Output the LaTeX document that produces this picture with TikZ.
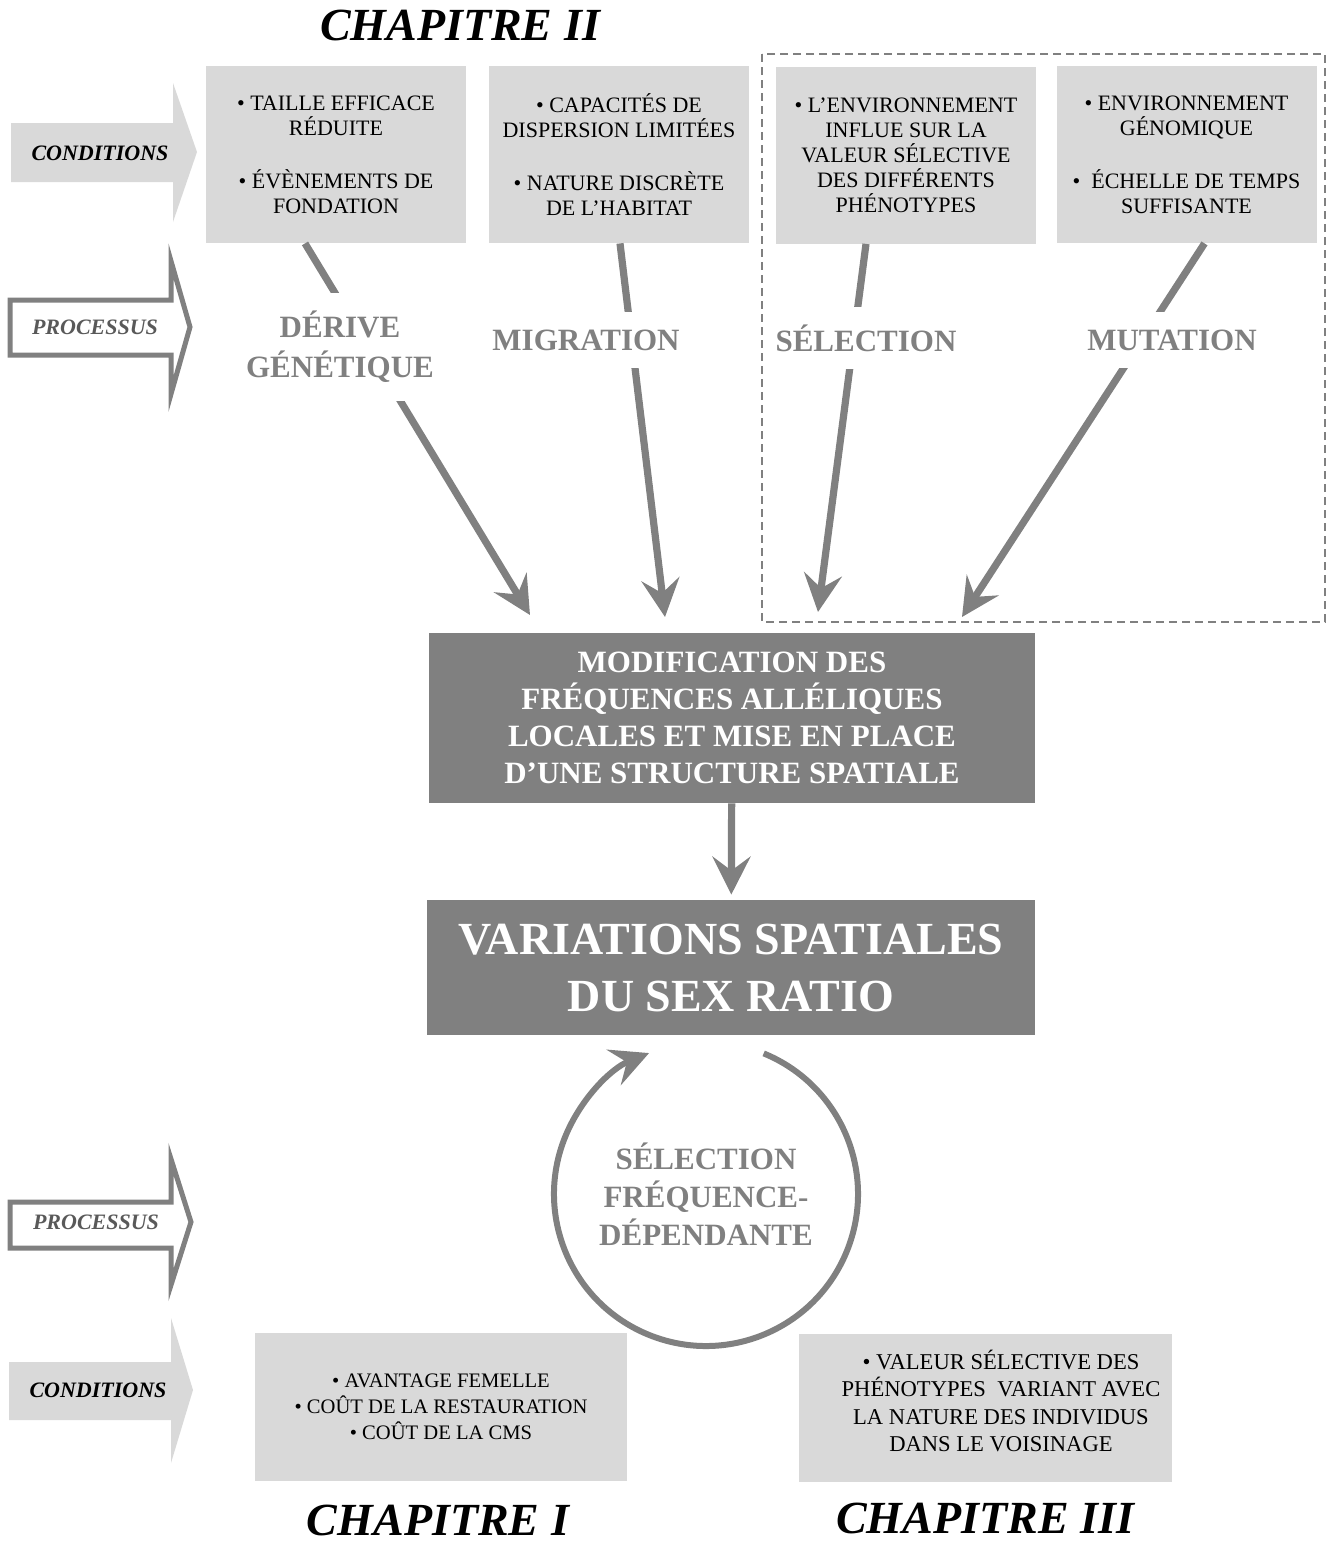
\documentclass[tikz,border=0pt]{standalone}
\usepackage{fontspec}
\setmainfont{Liberation Serif}
\definecolor{PaleShade}{RGB}{217,217,217}
\definecolor{MidShade}{RGB}{128,128,128}
\definecolor{DeepShade}{RGB}{89,89,89}
\colorlet{ColourBox}{PaleShade}
\colorlet{ColourLink}{MidShade}
\colorlet{ColourTag}{DeepShade}
\usetikzlibrary{arrows.meta}

\begin{document}
\begin{tikzpicture}[x=0.5pt,y=-0.5pt,
    condbox/.style={fill=ColourBox,minimum width=130pt,minimum height=88.5pt,inner sep=0pt,
      align=center,font=\fontsize{11}{12.5}\selectfont},
    lowbox/.style={fill=ColourBox,minimum width=186pt,minimum height=74pt,inner sep=0pt,
      align=center,font=\fontsize{10.3}{13}\selectfont},
    darkbox/.style={fill=ColourLink,text=white,minimum width=303pt,inner sep=0pt,align=center,
      font=\bfseries\fontsize{15.5}{18.5}\selectfont},
    proc/.style={text=ColourLink,align=center,font=\bfseries\fontsize{15.5}{20}\selectfont},
    link/.style={ColourLink,line width=3.6pt},
    pointed/.style={-{Stealth[length=19pt,width=19pt,inset=7pt]}},
    chap/.style={font=\bfseries\itshape\fontsize{23}{23}\selectfont},
    tag/.style={font=\bfseries\itshape\fontsize{11}{11}\selectfont}]

  \useasboundingbox (0,0) rectangle (1331,1544);

  % side arrows
  \fill[ColourBox] (11,123) -- (173,123) -- (173,83) -- (197,152) -- (173,222) -- (173,182) -- (11,182) -- cycle;
  \node[tag] (cond1) at (100,153) {CONDITIONS};
  \draw[ColourLink,line width=2.5pt,fill=white] (10,300) -- (171,300) -- (171,261) -- (190,327) -- (171,394) -- (171,355) -- (10,355) -- cycle;
  \node[tag,text=ColourTag] (proc1) at (95,327) {PROCESSUS};

  \draw[ColourLink,line width=2.5pt,fill=white] (10,1202) -- (171,1202) -- (171,1159) -- (191,1222) -- (171,1285) -- (171,1248) -- (10,1248) -- cycle;
  \node[tag,text=ColourTag] (proc2) at (96,1222) {PROCESSUS};
  \fill[ColourBox] (9,1362) -- (171,1362) -- (171,1318) -- (193,1390) -- (171,1463) -- (171,1420) -- (9,1420) -- cycle;
  \node[tag] (cond2) at (98,1390) {CONDITIONS};

  % chapters
  \node[chap] (chap2) at (460,25) {CHAPITRE II};
  \node[chap] (chap1) at (438,1520) {CHAPITRE I};
  \node[chap] (chap3) at (985,1518) {CHAPITRE III};

  % conditions of chapter II
  \node[condbox] (driftcond) at (336,154.5) {\textbullet\ TAILLE EFFICACE\\RÉDUITE\\[14pt]\textbullet\ ÉVÈNEMENTS DE\\FONDATION};
  \node[condbox] (migcond) at (619,154.5) {\textbullet\ CAPACITÉS DE\\DISPERSION LIMITÉES\\[14pt]\textbullet\ NATURE DISCRÈTE\\DE L’HABITAT};
  \node[condbox] (selcond) at (906,155) {\textbullet\ L’ENVIRONNEMENT\\INFLUE SUR LA\\VALEUR SÉLECTIVE\\DES DIFFÉRENTS\\PHÉNOTYPES};
  \node[condbox] (mutcond) at (1186.5,154.5) {\textbullet\ ENVIRONNEMENT\\GÉNOMIQUE\\[14pt]\textbullet\ \ ÉCHELLE DE TEMPS\\SUFFISANTE};

  \draw[ColourLink,line width=0.9pt,dash pattern=on 4pt off 2.5pt] (762,54) rectangle (1325,622);

  % arrow ends above the central box
  \coordinate (t1) at (530,615);
  \coordinate (t2) at (665,617);
  \coordinate (t3) at (818,612);
  \coordinate (t4) at (962,617);

  \draw[link,pointed] ([xshift=-15.5pt]driftcond.south) -- (t1);
  \draw[link,pointed] ([xshift=0.5pt]migcond.south) -- (t2);
  \draw[link,pointed] ([xshift=-20pt]selcond.south) -- (t3);
  \draw[link,pointed] ([xshift=9pt]mutcond.south) -- (t4);

  \node[proc,fill=white,inner xsep=2pt,inner ysep=9pt] (derive) at (340,347) {DÉRIVE\\GÉNÉTIQUE};
  \node[proc,fill=white,inner xsep=2pt,inner ysep=9pt] (migration) at (586,340) {MIGRATION};
  \node[proc,fill=white,inner xsep=2pt,inner ysep=9pt] (selection) at (866,338) {SÉLECTION};
  \node[proc,fill=white,inner xsep=2pt,inner ysep=9pt] (mutation) at (1172,340) {MUTATION};

  % central boxes
  \node[darkbox,minimum height=85pt] (modif) at (732,718)
    {MODIFICATION DES\\FRÉQUENCES ALLÉLIQUES\\LOCALES ET MISE EN PLACE\\D’UNE STRUCTURE SPATIALE};
  \node[darkbox,minimum width=304pt,minimum height=67.5pt,font=\bfseries\fontsize{23}{28.5}\selectfont] (variations) at (731,967.5)
    {VARIATIONS SPATIALES\\DU SEX RATIO};
  \draw[link,pointed,shorten >=2.5pt] (modif) -- (variations);

  % frequency dependent loop
  \node[proc,font=\bfseries\fontsize{15.5}{19}\selectfont] (freqdep) at (706,1194) {SÉLECTION\\FRÉQUENCE-\\DÉPENDANTE};
  \draw[link,line width=3pt,pointed] ([shift={(-67.7:152)}]freqdep.center) arc[start angle=-67.7,end angle=248,radius=152];

  % conditions of chapters I and III
  \node[lowbox] (femcond) at (441,1407) {\textbullet\ AVANTAGE FEMELLE\\\textbullet\ COÛT DE LA RESTAURATION\\\textbullet\ COÛT DE LA CMS};
  \node[lowbox,minimum width=186.5pt] (voiscond) at (985.5,1407.5) {};
  \node[align=center,font=\fontsize{11.3}{13.7}\selectfont] (voistext) at (1001,1401)
    {\textbullet\ VALEUR SÉLECTIVE DES\\PHÉNOTYPES\ \ VARIANT AVEC\\LA NATURE DES INDIVIDUS\\DANS LE VOISINAGE};

\end{tikzpicture}
\end{document}
